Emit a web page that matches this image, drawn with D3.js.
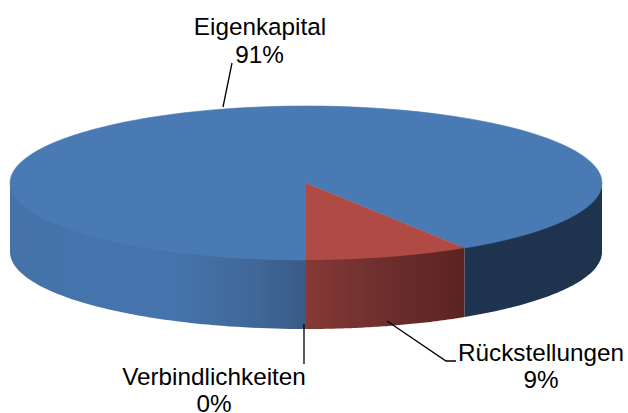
<!DOCTYPE html>
<html><head><meta charset="utf-8"><script src="https://cdn.jsdelivr.net/npm/d3@7"></script>
<style>html,body{margin:0;padding:0;background:#fff}svg{display:block}</style></head><body>
<script>
const categories = ["Eigenkapital","Rückstellungen","Verbindlichkeiten"];
const percentLabels = ["91%","9%","0%"];
const values = [91,9,0];
const topColors = ["#4a7ab3","#b04a45","#4a7ab3"];
const width=628,height=413;
const cx=306,cy=183,rx=296,ry=77,depth=69;
const svg=d3.select("body").append("svg").attr("width",width).attr("height",height);
const defs=svg.append("defs");
const order=[1,0,2];
const pie=d3.pie().sort(null).startAngle(0).endAngle(2*Math.PI).value(i=>values[i]);
const arcs=pie(order);
const px=t=>cx+rx*Math.sin(t), py=t=>cy+ry*Math.cos(t);
function grad(id,stops){
  const g=defs.append("linearGradient").attr("id",id).attr("gradientUnits","userSpaceOnUse")
   .attr("x1",cx-rx).attr("x2",cx+rx).attr("y1",0).attr("y2",0);
  stops.forEach(s=>g.append("stop").attr("offset",s[0]).attr("stop-color",s[1]));
}
grad("sideBlue",[[0,"#4472a9"],[0.25,"#4675ae"],[0.33,"#436fa5"],[0.42,"#3f6797"],[0.5,"#3a5a86"],[0.5,"#1f3550"],[1,"#1e334e"]]);
grad("sideRed",[[0.5,"#863836"],[0.62,"#6f302e"],[0.77,"#5a2320"]]);
function sidePath(a0,a1){
  const n=60,pts=d3.range(n+1).map(i=>a0+(a1-a0)*i/n);
  const lower=pts.map(t=>[px(t),py(t)+depth]);
  const upper=pts.map(t=>[px(t),py(t)-2]).reverse();
  return d3.line()(lower.concat(upper))+"Z";
}
const slices=arcs.map((d,i)=>({d,i:order[i]}));
slices.forEach(({d,i})=>{
  const a0=d.startAngle,a1=d.endAngle,HP=Math.PI/2;
  [[Math.max(a0,0),Math.min(a1,HP)],[Math.max(a0,3*HP),Math.min(a1,4*HP)]].forEach(s=>{
    if(s[1]>s[0]) svg.append("path").attr("d",sidePath(s[0],s[1])).attr("fill",i===1?"url(#sideRed)":"url(#sideBlue)");
  });
});
// largest slice first, so the red wedge sits on it with no light seam
slices.slice().reverse().forEach(({d,i})=>{
  if(d.endAngle<=d.startAngle) return;
  const n=120,pts=d3.range(n+1).map(k=>{const t=d.startAngle+(d.endAngle-d.startAngle)*k/n;return [px(t),py(t)];});
  svg.append("path").attr("d",d3.line()([[cx,cy]].concat(pts))+"Z").attr("fill",topColors[i])
    .attr("stroke",i===0?topColors[i]:"none").attr("stroke-width",0.6);
});
const leaders=[[[232,63],[223,107]],[[304,324],[304,364]],[[387,321],[446,361],[456,361]]];
leaders.forEach(l=>svg.append("path").attr("d",d3.line()(l)).attr("fill","none").attr("stroke","#000").attr("stroke-width",1.3));
const labelPos=[[260,35,259.5,62.5],[541,361,541,388],[214,385,214,412]];
categories.forEach((c,i)=>{
  const p=labelPos[i];
  const t=svg.append("g").attr("font-family","Liberation Sans, Arial, sans-serif").attr("font-size",24.3).attr("text-anchor","middle").attr("fill","#000");
  t.append("text").attr("x",p[0]).attr("y",p[1]).text(c);
  t.append("text").attr("x",p[2]).attr("y",p[3]).text(percentLabels[i]);
});
</script></body></html>
